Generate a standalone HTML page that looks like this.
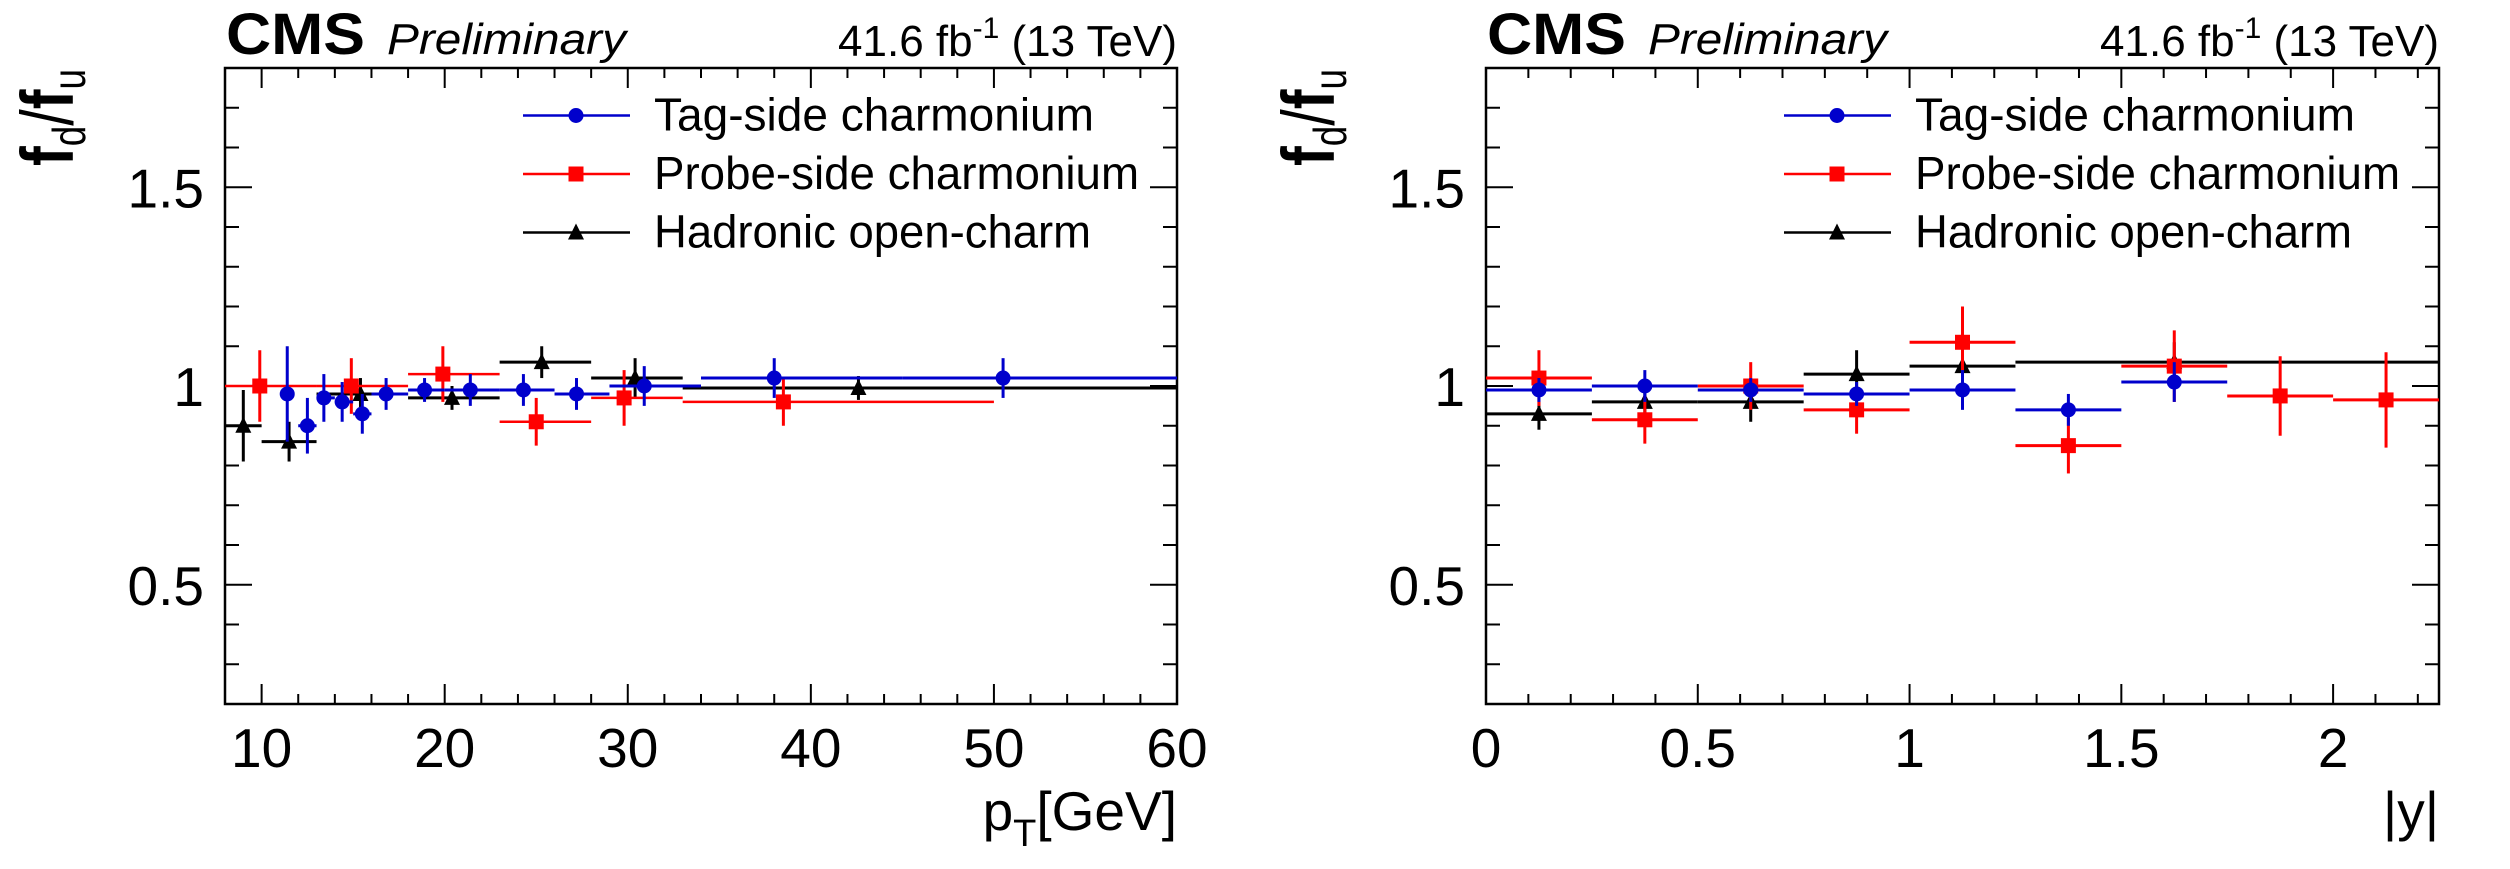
<!DOCTYPE html>
<html><head><meta charset="utf-8"><style>
html,body{margin:0;padding:0;background:#fff;}
svg{display:block;}
text{font-family:"Liberation Sans",sans-serif;fill:#000;}
</style></head><body>
<svg id="chart" width="2510" height="869" viewBox="0 0 2510 869" xmlns="http://www.w3.org/2000/svg"></svg>
<script>
// ---- Left panel data (pT) ----
const ptTagX   = [11.4, 12.5, 13.4, 14.4, 15.5, 16.8, 18.9, 21.4, 24.3, 27.2, 30.9, 38.0, 50.5];
const ptTagLo  = [11.0, 12.0, 13.0, 14.0, 15.0, 16.0, 18.0, 20.0, 23.0, 26.0, 29.0, 34.0, 45.0];
const ptTagHi  = [11.7, 13.0, 14.0, 15.0, 16.0, 18.0, 20.0, 23.0, 26.0, 29.0, 34.0, 45.0, 60.0];
const ptTagY   = [0.98, 0.90, 0.97, 0.96, 0.93, 0.98, 0.99, 0.99, 0.99, 0.98, 1.00, 1.02, 1.02];
const ptTagE   = [0.12, 0.07, 0.06, 0.05, 0.05, 0.04, 0.03, 0.04, 0.04, 0.04, 0.05, 0.05, 0.05];

const ptProbeX  = [9.9, 14.9, 19.9, 25.0, 29.8, 38.5];
const ptProbeLo = [8, 13, 18, 23, 28, 33];
const ptProbeHi = [13, 18, 23, 28, 33, 50];
const ptProbeY  = [1.00, 1.00, 1.03, 0.91, 0.97, 0.96];
const ptProbeE  = [0.09, 0.07, 0.07, 0.06, 0.07, 0.06];

const ptHadX  = [9.0, 11.5, 15.4, 20.4, 25.3, 30.4, 42.6];
const ptHadLo = [8, 10, 13, 18, 23, 28, 33];
const ptHadHi = [10, 13, 18, 23, 28, 33, 60];
const ptHadY  = [0.90, 0.86, 0.98, 0.97, 1.06, 1.02, 0.995];
const ptHadE  = [0.09, 0.05, 0.04, 0.03, 0.04, 0.05, 0.03];

// ---- Right panel data (|y|) ----
const yTagX  = [0.125, 0.375, 0.625, 0.875, 1.125, 1.375, 1.625];
const yTagY  = [0.99, 1.00, 0.99, 0.98, 0.99, 0.94, 1.01];
const yTagE  = [0.03, 0.04, 0.03, 0.03, 0.05, 0.04, 0.05];

const yProbeX = [0.125, 0.375, 0.625, 0.875, 1.125, 1.375, 1.625, 1.875, 2.125];
const yProbeY = [1.02, 0.915, 1.00, 0.94, 1.11, 0.85, 1.05, 0.975, 0.965];
const yProbeE = [0.07, 0.06, 0.06, 0.06, 0.09, 0.07, 0.09, 0.10, 0.12];

const yHadX  = [0.125, 0.375, 0.625, 0.875, 1.125, 1.625];
const yHadLo = [0.0, 0.25, 0.5, 0.75, 1.0, 1.25];
const yHadHi = [0.25, 0.5, 0.75, 1.0, 1.25, 2.25];
const yHadY  = [0.93, 0.96, 0.96, 1.03, 1.05, 1.06];
const yHadE  = [0.04, 0.04, 0.05, 0.06, 0.04, 0.05];

const yTicks = [0.5, 1, 1.5];
const yTickLabels = ["0.5", "1", "1.5"];
const ptTicks = [10, 20, 30, 40, 50, 60];
const ptTickLabels = ["10","20","30","40","50","60"];
const absyTicks = [0, 0.5, 1, 1.5, 2];
const absyTickLabels = ["0","0.5","1","1.5","2"];

const NS = "http://www.w3.org/2000/svg";
const svg = document.getElementById('chart');
function mk(tag, attrs, parent, txt){
  const e = document.createElementNS(NS, tag);
  for (const k in attrs) e.setAttribute(k, attrs[k]);
  if (txt !== undefined) e.textContent = txt;
  (parent||svg).appendChild(e);
  return e;
}
const BLUE = "#0000cc", RED = "#ff0000", BLACK = "#000000";
const TOP = 68, BOT = 704;

function panel(pfx, L, R, xmin, xmax, xt, xtl, minorStep, xTitleParts){
  const g = mk('g', {});
  
  
  const sx = v => L + (v - xmin) / (xmax - xmin) * (R - L);
  const sy = v => BOT - (v - 0.2) / 1.6 * (BOT - TOP);

  const fr = mk('rect', {x:L, y:TOP, width:R-L, height:BOT-TOP, fill:'none', stroke:'#000', 'stroke-width':2.5}, g);
  
  

  for (let i = 2; i <= 18; i++){
    const v = i / 10, y = sy(v);
    const major = (i % 5 === 0);
    const len = major ? 27 : 14;
    mk('line', {x1:L, x2:L+len, y1:y, y2:y, stroke:'#000', 'stroke-width':2}, g);
    mk('line', {x1:R, x2:R-len, y1:y, y2:y, stroke:'#000', 'stroke-width':2}, g);
  }
  yTicks.forEach((v, i) => {
    const t = mk('text', {x:L-21, y:sy(v)+20, 'font-size':55, 'text-anchor':'end'}, g, yTickLabels[i]);
    
    
  });
  const nMin = Math.round((xmax - xmin) / minorStep);
  for (let k = 0; k <= nMin; k++){
    const v = xmin + k * minorStep;
    if (v > xmax + 1e-9) break;
    const x = sx(v);
    const major = xt.some(m => Math.abs(m - v) < 1e-6);
    const len = major ? 20 : 10;
    mk('line', {x1:x, x2:x, y1:BOT, y2:BOT-len, stroke:'#000', 'stroke-width':2}, g);
    mk('line', {x1:x, x2:x, y1:TOP, y2:TOP+len, stroke:'#000', 'stroke-width':2}, g);
  }
  xt.forEach((v, i) => {
    const t = mk('text', {x:sx(v), y:767, 'font-size':55, 'text-anchor':'middle'}, g, xtl[i]);
    
    
  });

  const yt = mk('text', {x:0, y:0, 'font-size':74, 'font-weight':'bold', textLength:97, lengthAdjust:'spacingAndGlyphs', transform:`translate(${L-152},166) rotate(-90)`}, g);
  
  
  mk('tspan', {}, yt, 'f');
  mk('tspan', {'font-size':46, 'font-weight':'normal', dy:12}, yt, 'd');
  mk('tspan', {'font-weight':'normal', dy:-12}, yt, '/');
  mk('tspan', {}, yt, 'f');
  mk('tspan', {'font-size':46, 'font-weight':'normal', dy:12}, yt, 'u');

  const xtitle = mk('text', {x:R, y:830, 'font-size':55, 'text-anchor':'end'}, g);
  
  
  if (xTitleParts === 'pt'){
    mk('tspan', {}, xtitle, 'p');
    mk('tspan', {'font-size':38, dy:16}, xtitle, 'T');
    mk('tspan', {dy:-16}, xtitle, '[GeV]');
  } else {
    xtitle.textContent = '|y|';
  }

  const cms = mk('text', {x:L+1, y:54, 'font-size':58, 'font-weight':'bold', textLength:139, lengthAdjust:'spacingAndGlyphs'}, g, 'CMS');
  
  
  const pre = mk('text', {x:L+162, y:54, 'font-size':44, 'font-style':'italic', textLength:239, lengthAdjust:'spacingAndGlyphs'}, g, 'Preliminary');
  
  
  const lumi = mk('text', {x:R, y:56, 'font-size':44, 'text-anchor':'end'}, g);
  
  
  mk('tspan', {}, lumi, '41.6 fb');
  mk('tspan', {'font-size':30, dy:-18}, lumi, '-1');
  mk('tspan', {dy:18}, lumi, ' (13 TeV)');

  return {g, sx, sy};
}

function marker(g, type, x, y, color){
  if (type === 'circle') return mk('ellipse', {cx:x, cy:y, rx:7.5, ry:7.5, fill:color}, g);
  if (type === 'square') return mk('rect', {x:x-7.5, y:y-7.5, width:15, height:15, fill:color}, g);
  return mk('polygon', {points:`${x},${y-9} ${x-8},${y+7} ${x+8},${y+7}`, fill:color}, g);
}

function series(P, name, xs, ys, es, lo, hi, color, type, sw){
  const g = mk('g', {}, P.g);
  
  
  xs.forEach((xv, i) => {
    const x = P.sx(xv), y = P.sy(ys[i]);
    mk('line', {x1:P.sx(lo[i]), x2:P.sx(hi[i]), y1:y, y2:y, stroke:color, 'stroke-width':sw}, g);
    mk('line', {x1:x, x2:x, y1:P.sy(ys[i]-es[i]), y2:P.sy(ys[i]+es[i]), stroke:color, 'stroke-width':3}, g);
    const m = marker(g, type, x, y, color);
    
    
  });
}

function legend(pfx, L){
  const g = mk('g', {});
  
  
  const entries = [["Tag-side charmonium", BLUE, 'circle', 440],
                   ["Probe-side charmonium", RED, 'square', 485],
                   ["Hadronic open-charm", BLACK, 'triangle', 437]];
  entries.forEach((en, i) => {
    const cy = 115.5 + i * 58.5;
    const e = mk('g', {}, g);
    
    
    mk('line', {x1:L+298, x2:L+405, y1:cy, y2:cy, stroke:en[1], 'stroke-width':2.5}, e);
    marker(e, en[2], L+351, cy, en[1]);
    mk('text', {x:L+429, y:cy+15, 'font-size':46, textLength:en[3], lengthAdjust:'spacingAndGlyphs'}, e, en[0]);
  });
}

const PL = panel('pt', 225, 1177, 8, 60, ptTicks, ptTickLabels, 2, 'pt');
series(PL, 'hadronic-open-charm-pt', ptHadX, ptHadY, ptHadE, ptHadLo, ptHadHi, BLACK, 'triangle', 3);
series(PL, 'probe-side-charmonium-pt', ptProbeX, ptProbeY, ptProbeE, ptProbeLo, ptProbeHi, RED, 'square', 2.5);
series(PL, 'tag-side-charmonium-pt', ptTagX, ptTagY, ptTagE, ptTagLo, ptTagHi, BLUE, 'circle', 3);
legend('pt', 225);

const PR = panel('absy', 1486, 2439, 0, 2.25, absyTicks, absyTickLabels, 0.1, 'y');
const binLo = a => a.map(v => v - 0.125), binHi = a => a.map(v => v + 0.125);
series(PR, 'hadronic-open-charm-y', yHadX, yHadY, yHadE, yHadLo, yHadHi, BLACK, 'triangle', 3);
series(PR, 'probe-side-charmonium-y', yProbeX, yProbeY, yProbeE, binLo(yProbeX), binHi(yProbeX), RED, 'square', 3);
series(PR, 'tag-side-charmonium-y', yTagX, yTagY, yTagE, binLo(yTagX), binHi(yTagX), BLUE, 'circle', 3);
legend('absy', 1486);
</script>
</body></html>
